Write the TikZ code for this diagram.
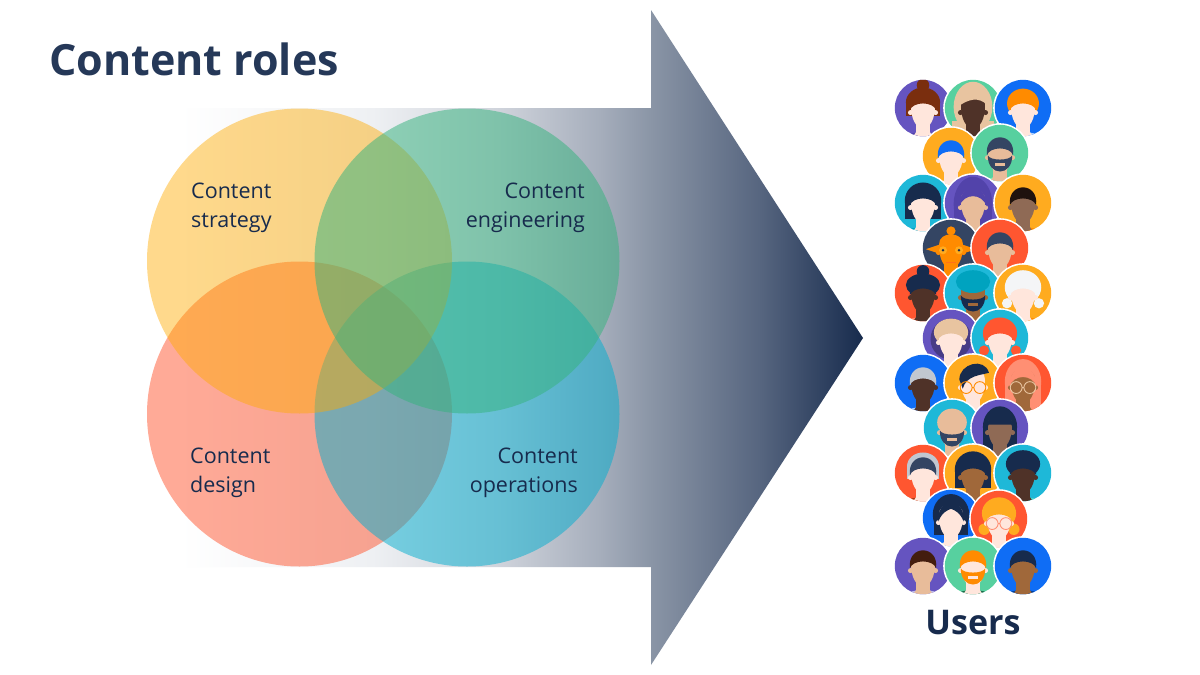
\documentclass[tikz,border=0pt]{standalone}
\usepackage{fontspec}
\setmainfont{Open Sans}
\definecolor{cTitle}{HTML}{253858}
\definecolor{cNavy}{HTML}{172B4D}
\definecolor{cOrange}{HTML}{FFAB00}
\definecolor{cGreen}{HTML}{36B37E}
\definecolor{cRed}{HTML}{FF5630}
\definecolor{cCyan}{HTML}{00AECF}
\definecolor{gA}{HTML}{EEF0F3}
\definecolor{gB}{HTML}{CFD3DB}
\definecolor{gC}{HTML}{A6AEBC}
\definecolor{gD}{HTML}{8A95A6}
\definecolor{gE}{HTML}{56657F}
\definecolor{aPurple}{HTML}{6554C0}
\definecolor{aDPurple}{HTML}{5243AA}
\definecolor{aMint}{HTML}{57D09F}
\definecolor{aLMint}{HTML}{79F2C0}
\definecolor{aBlue}{HTML}{0F6DF5}
\definecolor{aLBlue}{HTML}{B3D4FF}
\definecolor{aAmber}{HTML}{FFAB1F}
\definecolor{aDAmber}{HTML}{FF8B00}
\definecolor{aTeal}{HTML}{1EB8D8}
\definecolor{aDTeal}{HTML}{00A3BF}
\definecolor{aRed}{HTML}{FF5630}
\definecolor{aLRed}{HTML}{FF8F73}
\definecolor{aSlate}{HTML}{344563}
\definecolor{aInk}{HTML}{172B4D}
\definecolor{sLight}{HTML}{FFE6DC}
\definecolor{sTan}{HTML}{E8BC9A}
\definecolor{sMid}{HTML}{A0683A}
\definecolor{sBrown}{HTML}{8F6A55}
\definecolor{sDark}{HTML}{4F3228}
\definecolor{hBlond}{HTML}{E8C4A0}
\definecolor{hBrown}{HTML}{7A2E0E}
\definecolor{hBlack}{HTML}{1F120E}
\definecolor{hGrey}{HTML}{C1C7D0}
\definecolor{hWhite}{HTML}{F4F5F7}
\pgfdeclarehorizontalshading{arrowgrad}{100bp}{color(0bp)=(white); color(25bp)=(white); color(39.1bp)=(gA); color(48.4bp)=(gB); color(55.7bp)=(gC); color(59.5bp)=(gD); color(67.5bp)=(gE); color(75bp)=(cNavy); color(100bp)=(cNavy)}
\tikzset{
  lbl/.style={text=cNavy,inner sep=0pt,font=\fontsize{21.5}{29}\selectfont},
}
% #1 x, #2 y, #3 bg, #4 shirt, #5 skin, #6 behind the head, #7 over the face
\newcommand{\avatar}[7]{%
  \begin{scope}[shift={(#1,#2)}]
    \fill[white] (0,0) circle (29.8);
    \begin{scope}
      \clip (0,0) circle (28.2);
      \fill[#3] (-30,-30) rectangle (30,30);
      \begin{scope}[scale=1.14,shift={(0,1)}]
      #6
      \fill[#4] (0,34) ellipse (23 and 14);
      \fill[#5] (-6,8) rectangle (6,22);
      \fill[#5] (-6,20) -- (6,20) -- (10,26) -- (0,30) -- (-10,26) -- cycle;
      \fill[#5] (-11,3) circle (2.2) (11,3) circle (2.2);
      \fill[#5] (-10.5,-4) .. controls (-11,-16) and (11,-16) .. (10.5,-4)
        .. controls (11,8) and (6,17) .. (0,17) .. controls (-6,17) and (-11,8) .. cycle;
      #7
      \end{scope}
    \end{scope}
  \end{scope}}
\newcommand{\capHair}[1]{\fill[#1] (-11.5,1) .. controls (-14,-20) and (14,-20) .. (11.5,1)
  .. controls (9,-7) and (-9,-7) .. cycle;}
\newcommand{\beardHair}[1]{\fill[#1] (-10.7,1) .. controls (-11,20) and (11,20) .. (10.7,1)
  .. controls (9,6) and (-9,6) .. cycle;}
\newcommand{\specs}[1]{\draw[#1,line width=.9pt] (-6,3) circle (5.2) (6,3) circle (5.2) (-1,3) -- (1,3);}
\begin{document}
\begin{tikzpicture}[x=1pt,y=-1pt]
\useasboundingbox (0,0) rectangle (1200,675);
\fill[white] (0,0) rectangle (1200,675);
% big arrow
\shade[shading=arrowgrad] (180,108) -- (651,108) -- (651,10) -- (863,338) -- (651,665) -- (651,567) -- (180,567) -- cycle;
% venn circles
\fill[cRed,opacity=.5] (299.5,414) circle (152.5);
\fill[cCyan,opacity=.5] (467,414) circle (152.5);
\fill[cOrange,opacity=.45] (299.5,261) circle (152.5);
\fill[cGreen,opacity=.52] (467,261) circle (152.5);
% texts
\node[anchor=base west,text=cTitle,inner sep=0pt,font=\fontsize{43}{50}\bfseries\selectfont] (title) at (49,75) {Content roles};
\node[lbl,anchor=north west,align=left] (strategy) at (191,183) {Content\\strategy};
\node[lbl,anchor=north east,align=right] (engineering) at (585,183) {Content\\engineering};
\node[lbl,anchor=north west,align=left] (design) at (190,448) {Content\\design};
\node[lbl,anchor=north east,align=right] (operations) at (578,448) {Content\\operations};
\node[anchor=base,text=cNavy,inner sep=0pt,font=\fontsize{34}{40}\bfseries\selectfont] (users) at (973,634) {Users};
% avatars
\avatar{923}{108}{aPurple}{aDPurple}{sLight}
  {\fill[hBrown] (0,-21) circle (5.5); \fill[hBrown] (0,-6) ellipse (15 and 13); \fill[hBrown] (-15,-6) rectangle (15,6);}
  {\capHair{hBrown}}
\avatar{973}{108}{aMint}{hBlond}{sDark}
  {\fill[hBlond] (0,-2) ellipse (17 and 22); \fill[hBlond] (-18,10) rectangle (18,30);}
  {\fill[hBlond] (-12,-3) .. controls (-12,-20) and (12,-22) .. (13,-3) .. controls (5,-12) and (-5,-8) .. cycle;}
\avatar{1023}{108}{aBlue}{aLBlue}{sLight}
  {\fill[aDAmber] (0,-5) ellipse (14 and 13);}
  {\capHair{aDAmber}}
\avatar{951}{156}{aAmber}{aDAmber}{sLight}
  {}
  {\capHair{aBlue}}
\avatar{1000}{153}{aMint}{aLMint}{sTan}
  {}
  {\capHair{aSlate}\beardHair{aSlate}\fill[sTan] (-4,8) rectangle (4,10);}
\avatar{923}{203}{aTeal}{aDTeal}{sLight}
  {\fill[aInk] (0,-3) ellipse (16 and 16); \fill[aInk] (-16,-3) rectangle (16,13);}
  {\capHair{aInk}}
\avatar{973}{203}{aPurple}{aDPurple}{sTan}
  {\fill[aDPurple] (0,0) ellipse (17 and 24); \fill[aDPurple] (-17,2) rectangle (17,30);}
  {\fill[aDPurple] (-12,2) .. controls (-12,-20) and (12,-20) .. (12,2) .. controls (8,-10) and (-8,-10) .. cycle;}
\avatar{1023}{203}{aAmber}{aDAmber}{sBrown}
  {}
  {\capHair{hBlack}}
\avatar{951}{248}{aSlate}{aDAmber}{aDAmber}
  {\fill[aDAmber] (-22,0) -- (-10,-4) -- (-10,4) -- cycle (22,0) -- (10,-4) -- (10,4) -- cycle;\fill[aDAmber] (0,-16) circle (4);}
  {\fill[aAmber] (-7,1) circle (3.5) (7,1) circle (3.5);\fill[aInk] (-7,1) circle (1.2) (7,1) circle (1.2);\fill[aRed,opacity=.5] (-4,11) rectangle (4,12.5);}
\avatar{1000}{248}{aRed}{aLRed}{sTan}
  {}
  {\capHair{aSlate}}
\avatar{923}{293}{aRed}{aLRed}{sDark}
  {\fill[aInk] (0,-20) circle (5.5); \fill[aInk] (0,-8) ellipse (15 and 10);}
  {\capHair{aInk}}
\avatar{973}{293}{aTeal}{sBrown}{sMid}
  {}
  {\fill[aDTeal] (0,-11) ellipse (15 and 10);\beardHair{aInk}\fill[sMid] (-4,8) rectangle (4,10);}
\avatar{1023}{293}{aAmber}{aDAmber}{sLight}
  {\fill[hWhite] (0,-6) ellipse (16 and 15);\fill[hWhite] (-14,8) circle (4.5) (14,8) circle (4.5);}
  {\capHair{hWhite}}
\avatar{951}{338}{aPurple}{sLight}{sLight}
  {\fill[aPurple!70!black] (0,0) ellipse (18 and 18);\fill[hBlond] (0,-6) ellipse (15 and 12);}
  {\capHair{hBlond}}
\avatar{1000}{338}{aTeal}{aDTeal}{sLight}
  {\fill[aRed] (0,-5) ellipse (15 and 14);\fill[aRed] (-14,10) circle (4.5) (14,10) circle (4.5);}
  {\capHair{aRed}}
\avatar{923}{383}{aBlue}{aLBlue}{sDark}
  {}
  {\capHair{hGrey}}
\avatar{973}{383}{aAmber}{sLight}{sLight}
  {}
  {\fill[aInk] (-12,-4) .. controls (-12,-18) and (10,-24) .. (14,-10) .. controls (8,-8) and (-6,-8) .. (-9,4) -- cycle;\specs{aDAmber}}
\avatar{1023}{383}{aRed}{aLRed}{sMid}
  {\fill[aLRed] (0,-2) ellipse (16 and 20);\fill[aLRed] (-16,-2) rectangle (16,30);}
  {\fill[aLRed] (-12,2) .. controls (-12,-20) and (12,-20) .. (12,2) .. controls (8,-9) and (-8,-9) .. cycle;\specs{hBlond}}
\avatar{952}{428}{aTeal}{aDTeal}{sTan}
  {}
  {\fill[sTan] (0,-6) ellipse (13 and 12);\beardHair{aSlate}\fill[sTan] (-4,8) rectangle (4,10);}
\avatar{1000}{428}{aPurple}{aInk}{sBrown}
  {\fill[aInk] (0,-2) ellipse (15 and 18);\fill[aInk] (-15,-2) rectangle (15,30);}
  {\fill[aInk] (-11,-1) .. controls (-12,-20) and (12,-20) .. (11,-1) -- (10,-4) -- (-10,-4) -- cycle;}
\avatar{923}{473}{aRed}{hBrown!70!aRed}{sLight}
  {\fill[hGrey] (0,-7) ellipse (14 and 12);\fill[hGrey] (-14,-7) rectangle (14,4);}
  {\capHair{aSlate}}
\avatar{973}{473}{aAmber}{hBrown}{sMid}
  {\fill[aInk] (0,-4) ellipse (16 and 16);\fill[aInk] (-16,-4) rectangle (16,12);}
  {\capHair{aInk}}
\avatar{1023}{473}{aTeal}{aLMint!50!aTeal}{sDark}
  {\fill[aInk] (0,-9) ellipse (15 and 12);}
  {\capHair{aInk}}
\avatar{951}{518}{aBlue}{aLBlue}{sLight}
  {\fill[aInk] (0,-4) ellipse (16 and 18);\fill[aInk] (-15,0) rectangle (15,14);}
  {\fill[aInk] (-11,2) .. controls (-13,-20) and (13,-20) .. (11,2) .. controls (8,-6) and (3,-8) .. (0,-9) .. controls (-3,-8) and (-8,-6) .. cycle;}
\avatar{999}{519}{aRed}{aLRed}{sLight}
  {\fill[aAmber] (0,-6) ellipse (15 and 14);\fill[aAmber] (-13,8) circle (5) (13,8) circle (5);}
  {\capHair{aAmber}\specs{aLRed}}
\avatar{923}{566}{aPurple}{aPurple!40!white}{sTan}
  {}
  {\capHair{hBlack!60!hBrown}}
\avatar{973}{566}{aMint}{cGreen!60!black}{sLight}
  {}
  {\capHair{aDAmber}\beardHair{aDAmber}\fill[sLight] (-4,8) rectangle (4,10);}
\avatar{1023}{566}{aBlue}{aBlue!60!black}{sMid}
  {}
  {\capHair{aInk}}
\end{tikzpicture}
\end{document}
